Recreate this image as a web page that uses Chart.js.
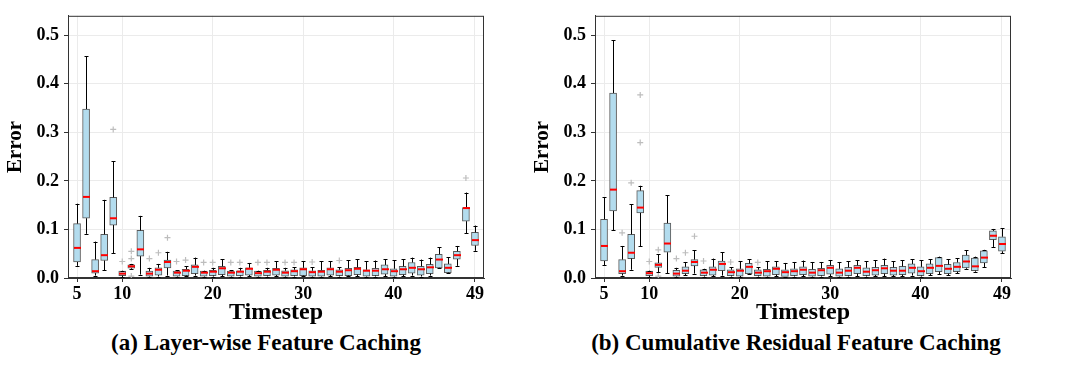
<!DOCTYPE html>
<html>
<head>
<meta charset="utf-8">
<script src="https://cdn.jsdelivr.net/npm/chart.js@4.4.0/dist/chart.umd.min.js"></script>
<style>
  html, body { margin: 0; padding: 0; background: #fff; }
  body { width: 1086px; height: 369px; position: relative; overflow: hidden; font-family: "Liberation Serif", "Times New Roman", serif; }
  canvas { position: absolute; top: 0; }
  #chartA { left: 0; }
  #chartB { left: 527px; }
  .caption { position: absolute; top: 330px; font-weight: bold; font-size: 23px; text-align: center; white-space: nowrap; color: #000; }
</style>
</head>
<body>
<canvas id="chartA" width="527" height="330"></canvas>
<canvas id="chartB" width="527" height="330"></canvas>
<div class="caption" style="left:0;width:532px">(a) Layer-wise Feature Caching</div>
<div class="caption" style="left:527px;width:538px">(b) Cumulative Residual Feature Caching</div>
<script>
// Timesteps shown on the x axis (one box per step)
const timesteps = [5, 6, 7, 8, 9, 10, 11, 12, 13, 14, 15, 16, 17, 18, 19, 20, 21, 22, 23, 24, 25, 26, 27,
  28, 29, 30, 31, 32, 33, 34, 35, 36, 37, 38, 39, 40, 41, 42, 43, 44, 45, 46, 47, 48, 49];
const xTicks = [5, 10, 20, 30, 40, 49];
const yTicks = [0, 0.1, 0.2, 0.3, 0.4, 0.5];

// (a) Layer-wise Feature Caching
const aLow = [0.025, 0.091, 0.005, 0.016, 0.051, 0.002, 0.018, 0.007, 0.003, 0.003,
  0.005, 0.003, 0.004, 0.005, 0.003, 0.003, 0.004, 0.003, 0.003, 0.004,
  0.003, 0.003, 0.004, 0.003, 0.003, 0.004, 0.003, 0.003, 0.004, 0.003,
  0.004, 0.004, 0.003, 0.003, 0.004, 0.003, 0.004, 0.005, 0.003, 0.005,
  0.020, 0.010, 0.025, 0.092, 0.056];
const aQ1 = [0.033, 0.123, 0.010, 0.036, 0.109, 0.005, 0.020, 0.045, 0.004, 0.006,
  0.021, 0.004, 0.005, 0.009, 0.004, 0.005, 0.007, 0.004, 0.005, 0.006,
  0.004, 0.005, 0.006, 0.004, 0.005, 0.005, 0.004, 0.004, 0.006, 0.005,
  0.005, 0.007, 0.004, 0.005, 0.008, 0.004, 0.007, 0.010, 0.006, 0.009,
  0.021, 0.011, 0.039, 0.117, 0.067];
const aMed = [0.062, 0.167, 0.014, 0.047, 0.123, 0.009, 0.024, 0.059, 0.009, 0.017,
  0.033, 0.011, 0.015, 0.023, 0.011, 0.013, 0.020, 0.011, 0.013, 0.019,
  0.010, 0.013, 0.017, 0.011, 0.014, 0.018, 0.012, 0.013, 0.018, 0.013,
  0.016, 0.019, 0.015, 0.015, 0.018, 0.014, 0.018, 0.021, 0.018, 0.022,
  0.038, 0.021, 0.047, 0.144, 0.078];
const aQ3 = [0.112, 0.348, 0.038, 0.090, 0.166, 0.014, 0.027, 0.098, 0.014, 0.021,
  0.037, 0.014, 0.018, 0.027, 0.014, 0.016, 0.024, 0.014, 0.015, 0.021,
  0.014, 0.016, 0.020, 0.015, 0.017, 0.021, 0.015, 0.016, 0.021, 0.017,
  0.020, 0.022, 0.017, 0.020, 0.027, 0.019, 0.024, 0.032, 0.024, 0.028,
  0.049, 0.029, 0.055, 0.145, 0.094];
const aHigh = [0.153, 0.457, 0.075, 0.161, 0.240, 0.015, 0.029, 0.128, 0.021, 0.029,
  0.054, 0.016, 0.024, 0.042, 0.015, 0.021, 0.039, 0.016, 0.021, 0.031,
  0.015, 0.021, 0.035, 0.021, 0.022, 0.035, 0.022, 0.034, 0.035, 0.022,
  0.037, 0.039, 0.035, 0.036, 0.039, 0.037, 0.039, 0.042, 0.038, 0.042,
  0.063, 0.043, 0.066, 0.176, 0.108];
const aOutT = [9, 10, 11, 11, 11, 13, 14, 15, 16, 17, 19, 20, 22, 23, 25, 26, 28, 29, 31, 34, 48];
const aOutV = [0.306, 0.034, 0.055, 0.040, 0.004, 0.040, 0.052, 0.083, 0.034, 0.037, 0.032,
  0.032, 0.032, 0.032, 0.032, 0.032, 0.032, 0.032, 0.033, 0.036, 0.206];

// (b) Cumulative Residual Feature Caching
const bLow = [0.026, 0.098, 0.005, 0.017, 0.065, 0.002, 0.012, 0.010, 0.003, 0.006,
  0.009, 0.003, 0.004, 0.005, 0.003, 0.002, 0.008, 0.003, 0.003, 0.004,
  0.003, 0.003, 0.004, 0.003, 0.003, 0.004, 0.003, 0.003, 0.004, 0.003,
  0.004, 0.004, 0.004, 0.004, 0.005, 0.003, 0.006, 0.008, 0.006, 0.010,
  0.019, 0.013, 0.022, 0.064, 0.051];
const bQ1 = [0.035, 0.138, 0.009, 0.040, 0.134, 0.005, 0.022, 0.053, 0.004, 0.009,
  0.025, 0.005, 0.006, 0.015, 0.005, 0.004, 0.009, 0.005, 0.004, 0.007,
  0.003, 0.005, 0.007, 0.004, 0.005, 0.008, 0.004, 0.005, 0.009, 0.005,
  0.006, 0.009, 0.006, 0.007, 0.010, 0.005, 0.009, 0.013, 0.009, 0.013,
  0.021, 0.015, 0.031, 0.079, 0.055];
const bMed = [0.066, 0.182, 0.014, 0.052, 0.145, 0.010, 0.027, 0.071, 0.009, 0.015,
  0.033, 0.011, 0.017, 0.029, 0.012, 0.015, 0.023, 0.011, 0.014, 0.019,
  0.012, 0.014, 0.017, 0.011, 0.016, 0.021, 0.011, 0.015, 0.021, 0.013,
  0.016, 0.020, 0.015, 0.015, 0.021, 0.014, 0.021, 0.025, 0.019, 0.023,
  0.034, 0.024, 0.042, 0.087, 0.070];
const bQ3 = [0.121, 0.381, 0.038, 0.090, 0.180, 0.014, 0.031, 0.113, 0.016, 0.023,
  0.038, 0.017, 0.023, 0.035, 0.017, 0.019, 0.030, 0.017, 0.018, 0.023,
  0.017, 0.019, 0.023, 0.018, 0.020, 0.026, 0.019, 0.022, 0.026, 0.021,
  0.022, 0.026, 0.022, 0.024, 0.029, 0.023, 0.029, 0.042, 0.028, 0.032,
  0.047, 0.041, 0.056, 0.097, 0.085];
const bHigh = [0.166, 0.490, 0.066, 0.152, 0.190, 0.015, 0.049, 0.170, 0.021, 0.033,
  0.057, 0.019, 0.040, 0.053, 0.022, 0.035, 0.039, 0.022, 0.035, 0.035,
  0.031, 0.033, 0.036, 0.033, 0.033, 0.037, 0.033, 0.035, 0.037, 0.035,
  0.037, 0.040, 0.035, 0.037, 0.039, 0.037, 0.039, 0.044, 0.039, 0.041,
  0.057, 0.044, 0.058, 0.101, 0.103];
const bOutT = [7, 8, 9, 9, 10, 11, 11, 13, 14, 15, 16, 19, 22];
const bOutV = [0.093, 0.196, 0.377, 0.279, 0.034, 0.058, 0.004, 0.040, 0.052, 0.086, 0.035, 0.033, 0.032];

const serif = '"Liberation Serif", "Times New Roman", serif';

function boxChart(id, low, q1, med, q3, high, outT, outV) {
  // frame round the plot, then whiskers, caps and medians on top of the boxes
  const parts = {
    id: 'boxParts',
    beforeDatasetsDraw(chart) {
      const { ctx, chartArea: a } = chart;
      ctx.save();
      ctx.strokeStyle = '#333';
      ctx.lineWidth = 1;
      ctx.strokeRect(a.left + 0.5, a.top + 0.5, a.right - a.left - 1, a.bottom - a.top - 1);
      ctx.restore();
    },
    afterDatasetsDraw(chart) {
      const { ctx, scales: { x, y } } = chart;
      ctx.save();
      timesteps.forEach((t, i) => {
        const cx = Math.round(x.getPixelForValue(t));
        ctx.strokeStyle = '#000';
        ctx.lineWidth = 1;
        ctx.beginPath();
        ctx.moveTo(cx + 0.5, y.getPixelForValue(q3[i]));
        ctx.lineTo(cx + 0.5, y.getPixelForValue(high[i]));
        ctx.moveTo(cx + 0.5, y.getPixelForValue(q1[i]));
        ctx.lineTo(cx + 0.5, y.getPixelForValue(low[i]));
        const yh = Math.round(y.getPixelForValue(high[i])) + 0.5;
        const yl = Math.round(y.getPixelForValue(low[i])) + 0.5;
        ctx.moveTo(cx - 1.5, yh); ctx.lineTo(cx + 2.5, yh);
        ctx.moveTo(cx - 1.5, yl); ctx.lineTo(cx + 2.5, yl);
        ctx.stroke();
        ctx.strokeStyle = '#ff0000';
        ctx.lineWidth = 2;
        const ym = y.getPixelForValue(med[i]);
        ctx.beginPath();
        ctx.moveTo(cx - 3, ym);
        ctx.lineTo(cx + 4, ym);
        ctx.stroke();
      });
      ctx.restore();
    }
  };

  new Chart(document.getElementById(id), {
    type: 'bar',
    data: {
      datasets: [
        {
          type: 'scatter',
          data: outT.map((t, i) => ({ x: t, y: outV[i] })),
          showLine: false,
          pointStyle: 'cross',
          radius: 3,
          borderColor: '#bdbdbd',
          borderWidth: 1.2
        },
        {
          data: timesteps.map((t, i) => ({ x: t, y: [q1[i], q3[i]] })),
          backgroundColor: '#b3dcee',
          borderColor: '#5a5a5a',
          borderWidth: 1,
          borderSkipped: false,
          barThickness: 7
        }
      ]
    },
    options: {
      responsive: false,
      animation: false,
      devicePixelRatio: 1,
      layout: { padding: { top: 7, right: 43, left: 0, bottom: 0 } },
      plugins: { legend: { display: false }, tooltip: { enabled: false } },
      scales: {
        x: {
          type: 'linear',
          min: 4,
          max: 50,
          offset: false,
          afterBuildTicks: (s) => { s.ticks = xTicks.map((v) => ({ value: v })); },
          afterFit: (s) => { s.height = 52; },
          grid: { offset: false, color: '#ebebeb', tickColor: '#333', tickLength: 4 },
          border: { color: '#333' },
          ticks: { color: '#000', padding: 2, maxRotation: 0, autoSkip: false,
            font: { family: serif, size: 18, weight: 'bold' } },
          title: { display: true, text: 'Timestep', color: '#000', padding: { top: 0, bottom: 3 },
            font: { family: serif, size: 24, weight: 'bold', lineHeight: 1.2 } }
        },
        y: {
          min: 0,
          max: 0.54,
          afterBuildTicks: (s) => { s.ticks = yTicks.map((v) => ({ value: v })); },
          afterFit: (s) => { s.width = 68; },
          grid: { color: '#ebebeb', tickColor: '#333', tickLength: 4 },
          border: { color: '#333' },
          ticks: { color: '#000', padding: 5, callback: (v) => v.toFixed(1),
            font: { family: serif, size: 18, weight: 'bold' } },
          title: { display: true, text: 'Error', color: '#000', padding: { top: 3, bottom: 0 },
            font: { family: serif, size: 21, weight: 'bold', lineHeight: 1.2 } }
        }
      }
    },
    plugins: [parts]
  });
}

boxChart('chartA', aLow, aQ1, aMed, aQ3, aHigh, aOutT, aOutV);
boxChart('chartB', bLow, bQ1, bMed, bQ3, bHigh, bOutT, bOutV);
</script>
</body>
</html>
